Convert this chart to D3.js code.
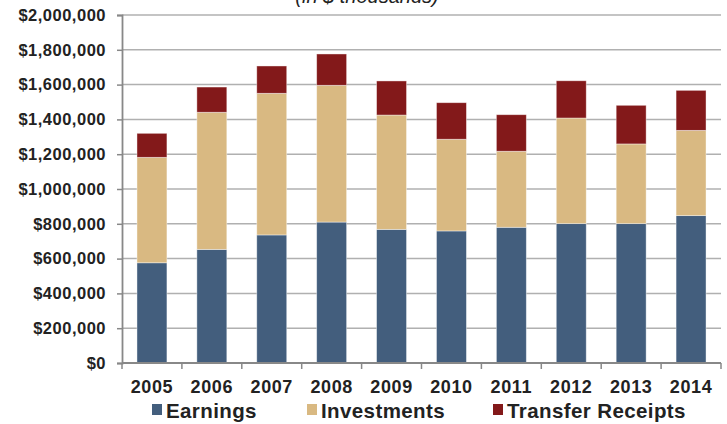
<!DOCTYPE html>
<html>
<head>
<meta charset="utf-8">
<script src="https://cdn.jsdelivr.net/npm/d3@7"></script>
<style>
  body { margin:0; background:#fff; }
  text { font-family: "Liberation Sans", Arial, sans-serif; fill:#222; }
</style>
</head>
<body>
<div id="chart"></div>
<script>
// values in $ thousands
const years = ["2005","2006","2007","2008","2009","2010","2011","2012","2013","2014"];
const earnings    = [576, 653, 736, 810, 768, 759, 780, 801, 801, 847].map(d => d*1000);
const investments = [606, 788, 814, 786, 657, 527, 437, 607, 458, 490].map(d => d*1000);
const transfers   = [138, 145, 157, 180, 196, 210, 210, 214, 222, 230].map(d => d*1000);
const seriesNames = ["Earnings","Investments","Transfer Receipts"];
const colors = ["#435e7d","#d9b982","#83191a"];
const yTicks = [0,200000,400000,600000,800000,1000000,1200000,1400000,1600000,1800000,2000000];

const width = 727, height = 424;
const margin = {t:15, r:6, b:61, l:122};

const svg = d3.select('#chart').append('svg')
  .attr('width', width)
  .attr('height', height);

const rows = years.map((y,i) => ({year:y, Earnings:earnings[i], Investments:investments[i], "Transfer Receipts":transfers[i]}));
const stacked = d3.stack().keys(seriesNames)(rows);

const scaleX = d3.scaleBand().domain(years)
  .range([margin.l, width - margin.r])
  .paddingInner(0.5).paddingOuter(0.25);
const scaleY = d3.scaleLinear().domain([0,2000000]).range([height - margin.b, margin.t]);

// title, clipped by the top edge like the original
svg.append('text')
  .attr('x', 367).attr('y', 3)
  .attr('text-anchor','middle')
  .style('font-size','20px')
  .style('font-style','italic')
  .text('(in $ thousands)');

// gridlines
svg.append('g').selectAll('line')
  .data(yTicks.slice(1))
  .join('line')
  .attr('x1', margin.l).attr('x2', width - margin.r)
  .attr('y1', d => scaleY(d)).attr('y2', d => scaleY(d))
  .style('stroke','#b0b0b0')
  .style('stroke-width',1.5);

// bars
svg.append('g').selectAll('g')
  .data(stacked)
  .join('g')
  .style('fill', (d,i) => colors[i])
  .selectAll('rect')
  .data(d => d)
  .join('rect')
  .attr('x', d => scaleX(d.data.year))
  .attr('width', scaleX.bandwidth())
  .attr('y', d => scaleY(d[1]))
  .attr('height', d => scaleY(d[0]) - scaleY(d[1]))
  .style('stroke','rgba(255,255,255,0.5)')
  .style('stroke-width',0.8);

// y axis
const axisY = d3.axisLeft(scaleY)
  .tickValues(yTicks)
  .tickSize(5)
  .tickPadding(11)
  .tickFormat(d => "$" + d3.format(",")(d));

const axisYNode = svg.append('g')
  .attr('transform',`translate(${margin.l},0)`)
  .call(axisY);
axisYNode.select('.domain').style('stroke','#888').style('stroke-width',1.8);
axisYNode.selectAll('.tick line').style('stroke','#888').style('stroke-width',1.5);
axisYNode.selectAll('.tick text')
  .style('font-size','16.5px')
  .style('letter-spacing','0.5px')
  .style('font-weight','bold')
  .style('fill','#222')
  .style('font-family','"Liberation Sans", Arial, sans-serif');

// x axis
const y0 = scaleY(0);
const step = scaleX.step();
const x0 = scaleX(years[0]) - step * scaleX.paddingOuter();
svg.append('line')
  .attr('x1', margin.l).attr('x2', width - margin.r)
  .attr('y1', y0).attr('y2', y0)
  .style('stroke','#888').style('stroke-width',1.8);
svg.append('g').selectAll('line')
  .data(d3.range(years.length + 1))
  .join('line')
  .attr('x1', i => x0 + i*step).attr('x2', i => x0 + i*step)
  .attr('y1', y0).attr('y2', y0 + 6)
  .style('stroke','#888').style('stroke-width',1.5);
svg.append('g').selectAll('text')
  .data(years)
  .join('text')
  .attr('x', d => scaleX(d) + scaleX.bandwidth()/2)
  .attr('y', 393)
  .attr('text-anchor','middle')
  .style('font-size','18px')
  .style('letter-spacing','0.6px')
  .style('font-weight','bold')
  .text(d => d);

// legend
const legendX = [152, 307, 493];
const legend = svg.append('g').selectAll('g')
  .data(seriesNames)
  .join('g')
  .attr('transform', (d,i) => `translate(${legendX[i]},404)`);
legend.append('rect')
  .attr('width',10).attr('height',11)
  .style('fill', (d,i) => colors[i]);
legend.append('text')
  .attr('x', 14).attr('y', 14)
  .style('font-size','20.5px')
  .style('letter-spacing','0.4px')
  .style('font-weight','bold')
  .text(d => d);
</script>
</body>
</html>
